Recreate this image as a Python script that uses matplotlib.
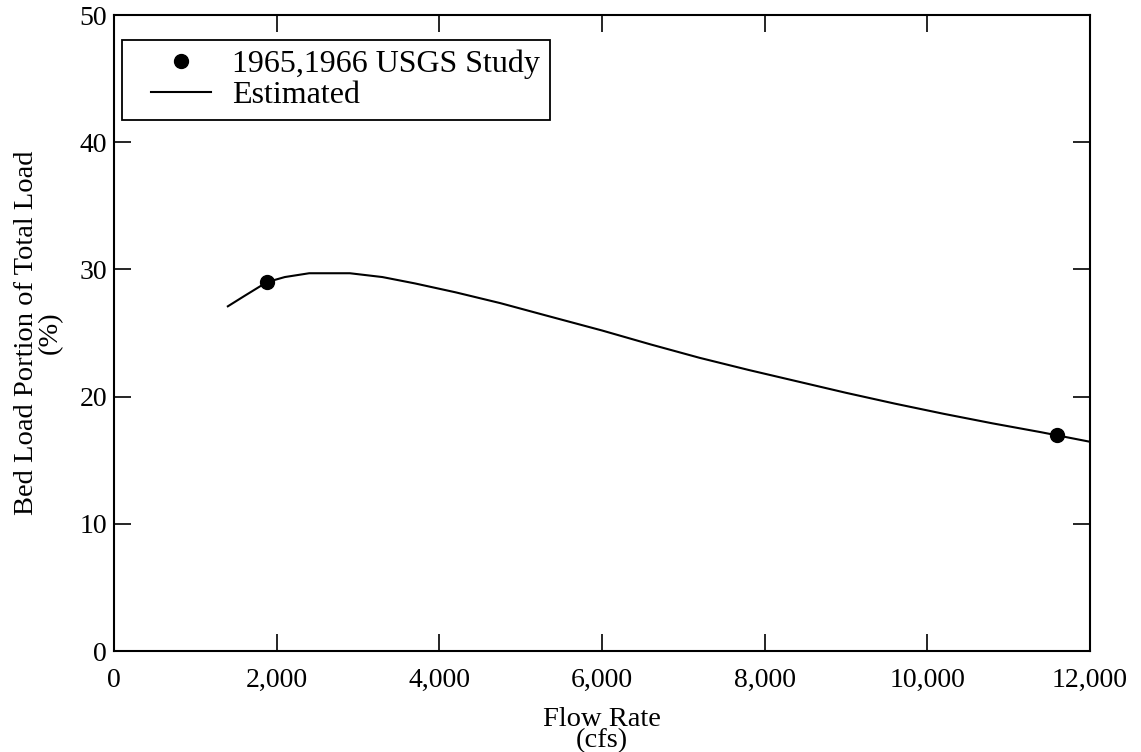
import matplotlib
matplotlib.use("Agg")
import numpy as np
import matplotlib.pyplot as plt
from matplotlib.ticker import FuncFormatter, MultipleLocator
from matplotlib.legend_handler import HandlerLine2D

plt.rcParams['font.family'] = ['Liberation Serif', 'DejaVu Serif']

# USGS measurements (1965, 1966)
usgs_flow = [1880, 11600]
usgs_pct = [29.0, 17.0]

# estimated bed load curve
est_flow = [1400, 1600, 1880, 2100, 2400, 2900, 3300, 3700, 4200, 4750,
            5300, 6000, 6600, 7200, 7800, 8400, 9000, 9600, 10200, 10800,
            11400, 11600, 12000]
est_pct = [27.1, 27.9, 29.0, 29.4, 29.7, 29.7, 29.4, 28.9, 28.2, 27.35,
           26.4, 25.2, 24.1, 23.05, 22.1, 21.2, 20.3, 19.45, 18.65, 17.9,
           17.2, 16.95, 16.45]


class ShortLine(HandlerLine2D):
    # legend line drawn shorter and centred in the handle box
    def create_artists(self, legend, orig_handle, xdescent, ydescent,
                       width, height, fontsize, trans):
        arts = super().create_artists(legend, orig_handle, xdescent, ydescent,
                                      width * 0.6, height, fontsize, trans)
        for a in arts:
            a.set_xdata(np.asarray(a.get_xdata()) + width * 0.2)
        return arts


fig = plt.figure(figsize=(11.41, 7.52), dpi=100)
ax = fig.add_axes([0.0999, 0.1343, 0.8554, 0.8457])

est_line, = ax.plot(est_flow, est_pct, color='black', lw=1.5, label='Estimated', zorder=2)
usgs_pts, = ax.plot(usgs_flow, usgs_pct, 'o', color='black', ms=10,
                    label='1965,1966 USGS Study', zorder=3)

ax.set_xlim(0, 12000)
ax.set_ylim(0, 50)
ax.xaxis.set_major_locator(MultipleLocator(2000))
ax.yaxis.set_major_locator(MultipleLocator(10))
ax.xaxis.set_major_formatter(FuncFormatter(lambda v, p: f"{int(v):,}"))
ax.tick_params(direction='in', length=12, width=1.2, labelsize=20,
               top=True, right=True)
ax.tick_params(axis='x', pad=12)
ax.tick_params(axis='y', pad=5)
for s in ax.spines.values():
    s.set_linewidth(1.5)

ax.set_xlabel('Flow Rate\n(cfs)', fontsize=20.5, linespacing=0.8, labelpad=10)
ax.set_ylabel('Bed Load Portion of Total Load\n(%)', fontsize=20.5, linespacing=0.95, labelpad=12)

leg = ax.legend([usgs_pts, est_line], ['1965,1966 USGS Study', 'Estimated'],
                loc='upper left', bbox_to_anchor=(0.0082, 0.9607),
                borderaxespad=0, fontsize=23, fancybox=False,
                edgecolor='black', framealpha=1, handlelength=3.1,
                handletextpad=0.05, labelspacing=0.05, borderpad=0.3,
                handler_map={est_line: ShortLine()})
leg.get_frame().set_linewidth(1.3)

fig.savefig('out.png', dpi=100)
